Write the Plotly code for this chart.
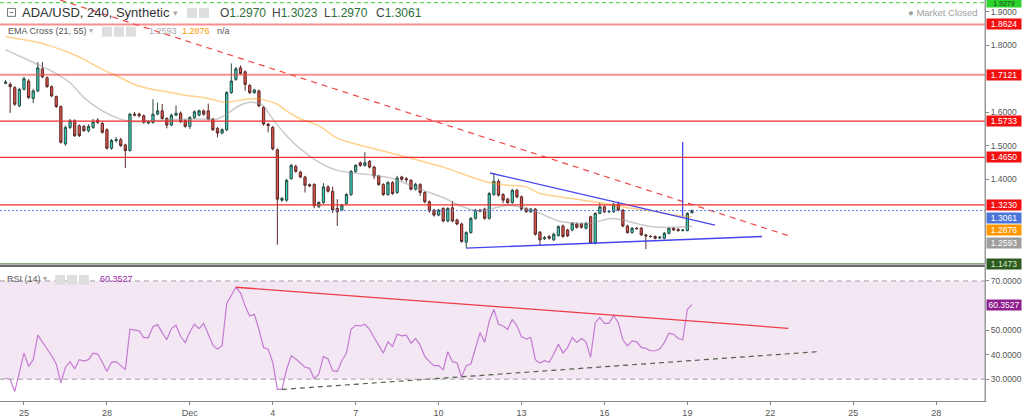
import plotly.graph_objects as go
import pandas as pd

# ---------------- data ----------------
start_time = "2021-11-24 08:00"   # first 4h candle

opens = [1.6864,1.6834,1.6735,1.6191,1.6685,1.6933,1.6409,1.6636,1.7299,1.7032,
         1.6765,1.6468,1.6171,1.5054,1.5548,1.5746,1.5598,1.5578,1.5449,1.5548,
         1.5766,1.5667,1.5479,1.4925,1.5153,1.5182,1.5024,1.4856,1.5944,1.5944,
         1.5894,1.5677,1.5697,1.5944,1.6043,1.5815,1.5617,1.5914,1.5973,1.5746,
         1.5578,1.5845,1.5914,1.6043,1.6043,1.5795,1.5518,1.5380,1.5479,1.6587,
         1.6982,1.7328,1.7210,1.6804,1.6587,1.6636,1.6142,1.5647,1.5548,1.4876,
         1.3372,1.3372,1.4015,1.4381,1.4213,1.4065,1.3837,1.3837,1.3175,1.3303,
         1.3768,1.3639,1.3125,1.3076,1.3274,1.3540,1.4233,1.4490,1.4411,1.4530,
         1.4361,1.4094,1.3837,1.3540,1.3897,1.3600,1.4065,1.4015,1.3966,1.3699,
         1.3837,1.3600,1.3323,1.3076,1.2927,1.3125,1.2749,1.3145,1.2779,1.2660,
         1.2116,1.2403,1.2828,1.3076,1.3105,1.2828,1.3540,1.3936,1.3540,1.3402,
         1.3303,1.3669,1.3471,1.3125,1.3027,1.3105,1.2413,1.2216,1.2284,1.2186,
         1.2314,1.2600,1.2481,1.2481,1.2659,1.2659,1.2531,1.2877,1.2086,1.2976,
         1.3174,1.3025,1.3025,1.3253,1.3075,1.2600,1.2402,1.2531,1.2531,1.2333,
         1.2294,1.2284,1.2244,1.2234,1.2382,1.2531,1.2501,1.2462,1.2462,1.2996]
highs = [1.6960,1.6900,1.6780,1.6730,1.7060,1.6990,1.6700,1.7497,1.7500,1.7070,
         1.6800,1.6500,1.6200,1.5600,1.5800,1.5790,1.5640,1.5620,1.5640,1.5800,
         1.5820,1.5710,1.5520,1.5200,1.5260,1.5240,1.5060,1.5980,1.6010,1.5990,
         1.5930,1.5760,1.6390,1.6290,1.6250,1.5850,1.5960,1.6200,1.6020,1.5790,
         1.5880,1.6060,1.6080,1.6080,1.6260,1.5830,1.5560,1.5520,1.6630,1.7460,
         1.7360,1.7400,1.7250,1.6840,1.6700,1.6680,1.6180,1.5680,1.5590,1.4920,
         1.3470,1.4010,1.4460,1.4430,1.4250,1.4100,1.3870,1.3880,1.3340,1.3880,
         1.3820,1.3780,1.3400,1.3260,1.3580,1.4270,1.4450,1.4530,1.4807,1.4570,
         1.4400,1.4130,1.3880,1.3940,1.3940,1.4100,1.4100,1.4060,1.4000,1.3890,
         1.3880,1.3640,1.3360,1.3110,1.3110,1.3160,1.3160,1.3350,1.2820,1.2700,
         1.2440,1.2870,1.3110,1.3110,1.3150,1.3620,1.4183,1.4000,1.3580,1.3440,
         1.3710,1.3710,1.3510,1.3160,1.3140,1.3140,1.2450,1.2300,1.2330,1.2400,
         1.2620,1.2640,1.2520,1.2720,1.2700,1.2700,1.2720,1.2910,1.3010,1.3300,
         1.3210,1.3080,1.3290,1.3330,1.3110,1.2640,1.2570,1.2570,1.2570,1.2370,
         1.2320,1.2320,1.2300,1.2420,1.2570,1.2560,1.2530,1.2510,1.3010,1.3095]
lows = [1.6840,1.5980,1.6190,1.6150,1.6650,1.6400,1.6270,1.6600,1.7020,1.6730,
        1.6450,1.6130,1.5060,1.5000,1.5500,1.5260,1.5260,1.5410,1.5400,1.5500,
        1.5650,1.5360,1.4880,1.4880,1.5100,1.4960,1.4332,1.4820,1.5880,1.5850,
        1.5660,1.5640,1.5660,1.5910,1.5780,1.5520,1.5580,1.5880,1.5680,1.5540,
        1.5500,1.5800,1.5880,1.5900,1.5760,1.5440,1.5250,1.5340,1.5440,1.6550,
        1.6940,1.7120,1.6640,1.6540,1.6550,1.6150,1.5600,1.5400,1.4860,1.2037,
        1.3320,1.3320,1.3980,1.4190,1.4030,1.3600,1.3760,1.3130,1.3140,1.3260,
        1.3600,1.2990,1.2600,1.3040,1.3240,1.3500,1.4190,1.4370,1.4370,1.4320,
        1.4000,1.3800,1.3500,1.3500,1.3530,1.3560,1.3950,1.3900,1.3660,1.3660,
        1.3500,1.3280,1.3000,1.2880,1.2890,1.2710,1.2710,1.2710,1.2620,1.2100,
        1.1938,1.2370,1.2790,1.3010,1.2790,1.2790,1.3500,1.3480,1.3280,1.3260,
        1.3260,1.3430,1.3060,1.2990,1.2990,1.2310,1.2030,1.2180,1.2190,1.2150,
        1.2280,1.2250,1.2270,1.2440,1.2520,1.2520,1.2500,1.2060,1.2050,1.2950,
        1.2990,1.2980,1.2990,1.3040,1.2560,1.2370,1.2370,1.2490,1.2300,1.1908,
        1.2250,1.2200,1.2210,1.2200,1.2350,1.2450,1.2430,1.2440,1.2440,1.2976]
closes = [1.6903,1.6765,1.6240,1.6685,1.7002,1.6438,1.6636,1.7328,1.7061,1.6765,
          1.6488,1.6171,1.5103,1.5548,1.5746,1.5301,1.5301,1.5449,1.5578,1.5716,
          1.5697,1.5400,1.4925,1.5153,1.5182,1.5004,1.4856,1.5944,1.5914,1.5894,
          1.5697,1.5716,1.5944,1.6043,1.5815,1.5617,1.5914,1.5973,1.5716,1.5578,
          1.5845,1.6013,1.6043,1.5944,1.5795,1.5479,1.5380,1.5479,1.6587,1.6933,
          1.7299,1.7160,1.6834,1.6587,1.6666,1.6191,1.5647,1.5598,1.4905,1.3402,
          1.3422,1.3966,1.4411,1.4233,1.4065,1.3817,1.3798,1.3204,1.3303,1.3768,
          1.3639,1.3076,1.3027,1.3224,1.3540,1.4233,1.4411,1.4411,1.4490,1.4361,
          1.4094,1.3837,1.3540,1.3897,1.3570,1.4035,1.3995,1.3986,1.3699,1.3847,
          1.3600,1.3323,1.3046,1.2927,1.3076,1.2749,1.3125,1.2749,1.2660,1.2136,
          1.2403,1.2828,1.3076,1.3046,1.2828,1.3570,1.3936,1.3521,1.3372,1.3303,
          1.3669,1.3471,1.3105,1.3027,1.3105,1.2354,1.2186,1.2255,1.2235,1.2354,
          1.2581,1.2284,1.2303,1.2679,1.2561,1.2561,1.2679,1.2086,1.2976,1.3174,
          1.3025,1.3035,1.3253,1.3075,1.2600,1.2402,1.2531,1.2521,1.2333,1.2303,
          1.2284,1.2234,1.2264,1.2382,1.2531,1.2481,1.2462,1.2481,1.2976,1.3061]

rsi = [30.39,29.86,25.00,32.82,40.63,35.24,37.94,47.91,45.21,42.52,
       39.55,36.19,28.51,34.84,37.13,34.17,37.94,37.40,37.94,40.63,
       40.23,36.86,33.09,36.86,37.13,35.51,33.90,50.33,49.93,49.66,
       46.96,46.96,51.41,52.22,48.98,46.02,50.60,51.95,47.37,44.94,
       49.25,52.35,50.60,52.75,48.31,43.86,42.25,43.60,60.84,64.47,
       67.44,65.15,59.76,55.72,56.39,50.33,42.92,42.25,36.86,25.81,
       25.81,33.90,39.55,38.21,36.59,34.84,34.43,30.13,32.15,39.28,
       38.21,33.49,33.09,37.53,40.63,50.33,51.95,51.68,52.35,50.33,
       46.96,43.86,40.63,45.21,43.33,48.31,47.64,47.91,44.67,46.56,
       43.86,39.28,37.13,35.51,35.51,33.90,41.17,37.13,36.59,30.80,
       35.51,36.19,42.92,48.98,44.94,53.70,58.41,52.35,51.68,50.33,
       54.37,51.68,47.37,46.29,46.96,37.94,36.59,37.53,36.86,40.23,
       44.27,40.63,42.92,46.96,44.94,46.56,45.21,38.88,53.02,55.04,
       52.75,52.75,55.99,53.02,46.02,43.60,45.62,45.21,42.92,42.52,
       41.58,41.58,42.25,44.94,48.71,48.31,46.56,46.02,58.41,60.3527]

# EMA Cross (21, 55) traced at candle indices
ema21_idx = [0, 7, 10, 14, 17, 21, 25, 28, 32, 36, 39, 43, 46, 48, 50, 52, 54, 56, 58,
             61, 64, 68, 72, 77, 80, 84, 87, 91, 95, 98, 102, 105, 109, 113, 116, 120,
             124, 127, 131, 134, 138, 141, 145, 149]
ema21 = [1.7872, 1.7427, 1.7229, 1.6883, 1.6438, 1.6043, 1.5795, 1.5716, 1.5746, 1.5776,
         1.5795, 1.5795, 1.5795, 1.5944, 1.6142, 1.6270, 1.6290, 1.6191, 1.5795,
         1.5301, 1.4905, 1.4510, 1.4262, 1.4163, 1.4114, 1.4015, 1.3867, 1.3650, 1.3450,
         1.3250, 1.3050, 1.3100, 1.3220, 1.3120, 1.2980, 1.2750, 1.2680, 1.2680, 1.2820,
         1.2780, 1.2640, 1.2570, 1.2560, 1.2593]
ema55_idx = [0, 6, 10, 14, 17, 21, 25, 28, 32, 36, 39, 43, 46, 48, 50, 54, 56, 59, 61,
             64, 68, 72, 76, 80, 87, 95, 102, 106, 109, 113, 116, 123, 130, 134, 141,
             145, 149]
ema55 = [1.826, 1.812, 1.797, 1.777, 1.758, 1.728, 1.703, 1.683, 1.668, 1.659, 1.651,
         1.644, 1.634, 1.629, 1.634, 1.641, 1.637, 1.624, 1.604, 1.580, 1.560, 1.522,
         1.505, 1.491, 1.466, 1.436, 1.402, 1.387, 1.382, 1.377, 1.357, 1.342, 1.327,
         1.317, 1.303, 1.293, 1.2876]

# horizontal levels
red_levels = [1.8624, 1.7121, 1.5733, 1.4650, 1.3230]
green_level = 1.9279
last_price = 1.3061
low_level = 1.1473

# drawn trend lines (time, value endpoints)
red_trend_t = ["2021-11-26 07:16", "2021-12-22 17:07"]
red_trend_v = [1.9356, 1.2294]
upper_blue_t = ["2021-12-11 20:38", "2021-12-20 00:00"]
upper_blue_v = [1.4184, 1.2629]
lower_blue_t = ["2021-12-11 00:00", "2021-12-21 16:50"]
lower_blue_v = [1.1938, 1.2285]
vert_blue_t = ["2021-12-18 19:55", "2021-12-18 19:55"]
vert_blue_v = [1.5113, 1.2880]
rsi_red_t = ["2021-12-02 16:00", "2021-12-22 15:39"]
rsi_red_v = [67.44, 50.73]
rsi_dash_t = ["2021-12-04 08:00", "2021-12-23 16:17"]
rsi_dash_v = [25.81, 41.17]

tick_dates = ["2021-11-25", "2021-11-28", "2021-12-01", "2021-12-04", "2021-12-07",
              "2021-12-10", "2021-12-13", "2021-12-16", "2021-12-19", "2021-12-22",
              "2021-12-25", "2021-12-28"]
tick_text = ["25", "28", "Dec", "4", "7", "10", "13", "16", "19", "22", "25", "28"]
price_ticks = [1.4, 1.5, 1.6, 1.8, 1.9]
rsi_ticks = [30, 40, 50, 70]

x_range = ["2021-11-24 03:10", "2021-12-29 18:26"]
price_range = [1.1463, 1.9356]
rsi_range = [21.11, 75.66]

times = pd.date_range(start_time, periods=len(opens), freq="4h")

# ---------------- figure ----------------
W, H = 1024, 418
ML, MR, MT, MB = 0, 39, 0, 14
PW, PH = W - ML - MR, H - MT - MB


def px(x):
    return x / PW


def py(y):
    return (PH - y) / PH


FONT = "Liberation Sans, Arial, sans-serif"

fig = go.Figure()

fig.add_trace(go.Candlestick(
    x=times, open=opens, high=highs, low=lows, close=closes,
    increasing=dict(line=dict(color="#2c4b42", width=1), fillcolor="#36d0c0"),
    decreasing=dict(line=dict(color="#5a2a2a", width=1), fillcolor="#e25448"),
    whiskerwidth=0, xaxis="x", yaxis="y", hoverinfo="skip", showlegend=False))

fig.add_trace(go.Scatter(x=[times[i] for i in ema21_idx], y=ema21, mode="lines",
                         line=dict(color="rgba(150,150,150,0.5)", width=1.5, shape="spline", smoothing=0.6),
                         xaxis="x", yaxis="y", hoverinfo="skip"))
fig.add_trace(go.Scatter(x=[times[i] for i in ema55_idx], y=ema55, mode="lines",
                         line=dict(color="rgba(255,152,0,0.45)", width=1.5, shape="spline", smoothing=0.6),
                         xaxis="x", yaxis="y", hoverinfo="skip"))

# trend lines in price pane
fig.add_trace(go.Scatter(x=red_trend_t, y=red_trend_v, mode="lines",
                         line=dict(color="#f04848", width=1.2, dash="6px,5px"),
                         xaxis="x", yaxis="y", hoverinfo="skip"))
fig.add_trace(go.Scatter(x=upper_blue_t, y=upper_blue_v, mode="lines",
                         line=dict(color="#4646ee", width=1.3), xaxis="x", yaxis="y", hoverinfo="skip"))
fig.add_trace(go.Scatter(x=lower_blue_t, y=lower_blue_v, mode="lines",
                         line=dict(color="#4646ee", width=1.3), xaxis="x", yaxis="y", hoverinfo="skip"))
fig.add_trace(go.Scatter(x=vert_blue_t, y=vert_blue_v, mode="lines",
                         line=dict(color="#4646ee", width=1.3), xaxis="x", yaxis="y", hoverinfo="skip"))

# RSI pane
fig.add_trace(go.Scatter(x=times, y=rsi, mode="lines",
                         line=dict(color="#c57bd2", width=1.2), xaxis="x2", yaxis="y2", hoverinfo="skip"))
fig.add_trace(go.Scatter(x=rsi_red_t, y=rsi_red_v, mode="lines",
                         line=dict(color="#f03c46", width=1.3), xaxis="x2", yaxis="y2", hoverinfo="skip"))
fig.add_trace(go.Scatter(x=rsi_dash_t, y=rsi_dash_v, mode="lines",
                         line=dict(color="#55604f", width=1.2, dash="5px,4px"),
                         xaxis="x2", yaxis="y2", hoverinfo="skip"))

shapes = []
# RSI band and bounds
shapes.append(dict(type="rect", xref="x2 domain", x0=0, x1=1, yref="y2", y0=30, y1=70,
                   fillcolor="rgba(150,60,160,0.12)", line=dict(width=0), layer="below"))
for lv in (30, 70):
    shapes.append(dict(type="line", xref="x2 domain", x0=0, x1=1, yref="y2", y0=lv, y1=lv,
                       line=dict(color="#a0a0a0", width=1, dash="5px,4px")))
# price levels
for i, lv in enumerate(red_levels):
    if i < 2:
        ln = dict(color="rgba(240,70,70,0.6)", width=2)
    else:
        ln = dict(color="#f02c2c", width=1.2)
    shapes.append(dict(type="line", xref="x domain", x0=0, x1=1, yref="y", y0=lv, y1=lv, line=ln))
shapes.append(dict(type="line", xref="x domain", x0=0, x1=1, yref="y", y0=green_level, y1=green_level,
                   line=dict(color="#5ad65a", width=1.2, dash="4px,3px")))
shapes.append(dict(type="line", xref="x domain", x0=0, x1=1, yref="y", y0=last_price, y1=last_price,
                   line=dict(color="#5b7fe6", width=1, dash="2px,2px")))
shapes.append(dict(type="line", xref="x domain", x0=0, x1=1, yref="y", y0=low_level, y1=low_level,
                   line=dict(color="#8fa882", width=1.5)))
# pane separator and right border
shapes.append(dict(type="line", xref="paper", x0=0, x1=1, yref="paper", y0=py(267.8), y1=py(267.8),
                   line=dict(color="#6a6a6a", width=2.5)))
shapes.append(dict(type="line", xref="paper", x0=1, x1=1, yref="paper", y0=0, y1=1,
                   line=dict(color="#9a9a9a", width=1)))


# little legend icons (grey squares)
def icon(x0, y0, s=9):
    shapes.append(dict(type="rect", xref="paper", yref="paper", x0=px(x0), x1=px(x0 + s),
                       y0=py(y0 + s), y1=py(y0), fillcolor="#dedede", line=dict(width=0)))


shapes.append(dict(type="rect", xref="paper", yref="paper", x0=px(7.5), x1=px(15.5),
                   y0=py(16.5), y1=py(8.5), fillcolor="white", line=dict(color="#777", width=1)))
shapes.append(dict(type="line", xref="paper", yref="paper", x0=px(9.5), x1=px(13.5),
                   y0=py(12.5), y1=py(12.5), line=dict(color="#777", width=1)))
for xx in (187, 199):
    icon(xx, 8, 10)
for xx in (102, 114, 126):
    icon(xx, 27, 10)
for xx in (55, 67, 79):
    icon(xx, 277, 10)

ann = []


def text(x, y, t, size=9, color="#555", anchor="left"):
    ann.append(dict(xref="paper", yref="paper", x=px(x), y=py(y), text=t, showarrow=False,
                    xanchor=anchor, yanchor="middle", font=dict(family=FONT, size=size, color=color)))


text(20, 13, "ADA/USD, 240, Synthetic", size=13, color="#333")
text(171, 13, "▾", size=9, color="#aaa")
ohlc_labels = ["O", "H", "L", "C"]
ohlc_vals = ["1.2970", "1.3023", "1.2970", "1.3061"]
for k, (lab, val) in enumerate(zip(ohlc_labels, ohlc_vals)):
    text(218 + 52 * k, 13, lab + "<span style='color:#2f6e3c'>" + val + "</span>", size=12, color="#444")
text(6, 31, "EMA Cross (21, 55)", size=9, color="#555")
text(87, 31, "▾", size=8, color="#aaa")
text(147, 31, "1.2593", size=9, color="#a8a8a8")
text(180, 31, "1.2876", size=9, color="#ff9800")
text(215, 31, "n/a", size=9, color="#555")
text(5, 281, "RSI (14)", size=9, color="#555")
text(41, 281, "▾", size=8, color="#aaa")
text(98, 281, "60.3527", size=9, color="#9c27b0")
text(980, 13, "● Market Closed", size=9.5, color="#a0a0a0", anchor="right")


def label(val, t, bg, fg="#ffffff", yref="y", dy=0, h=10, size=8.5):
    ann.append(dict(xref="paper", x=1, xanchor="left", xshift=1, yref=yref, y=val, yshift=dy,
                    yanchor="middle", text=t, showarrow=False, bgcolor=bg, width=34, height=h,
                    borderpad=0, align="center", font=dict(family=FONT, size=size, color=fg)))


label(green_level, "1.9279", "#2ad42a", fg="#1b3a1b", dy=-1, h=7, size=7)
for lv, t in zip(red_levels, ["1.8624", "1.7121", "1.5733", "1.4650", "1.3230"]):
    label(lv, t, "#f40f0f")
label(last_price, "1.3061", "#4c75dc", dy=-7)
label(1.2876, "1.2876", "#ff9800", dy=-13.5)
label(1.2593, "1.2593", "#9e9e9e", dy=-16.5)
label(low_level, "1.1473", "#2d5a1e", fg="#d8e8d0")
label(60.3527, "60.3527", "#8e1e8e", yref="y2")

fig.update_layout(
    width=W, height=H, margin=dict(l=ML, r=MR, t=MT, b=MB),
    paper_bgcolor="white", plot_bgcolor="white", showlegend=False,
    font=dict(family=FONT, size=9, color="#555"),
    xaxis=dict(domain=[0, 1], range=x_range, anchor="y", type="date", showticklabels=False,
               showgrid=False, zeroline=False, showline=False, rangeslider=dict(visible=False)),
    xaxis2=dict(domain=[0, 1], range=x_range, anchor="y2", type="date", matches="x",
                tickmode="array", tickvals=tick_dates, ticktext=tick_text,
                showgrid=False, zeroline=False, showline=True, linecolor="#888", linewidth=1,
                ticks="outside", ticklen=3, tickcolor="#888",
                tickfont=dict(family=FONT, size=9, color="#555")),
    yaxis=dict(domain=[0.3416, 1], range=price_range, anchor="x", side="right",
               tickmode="array", tickvals=price_ticks, tickformat=".4f",
               showgrid=False, zeroline=False, showline=True, linecolor="#999",
               ticks="outside", ticklen=3, tickcolor="#888",
               tickfont=dict(family=FONT, size=8.5, color="#555")),
    yaxis2=dict(domain=[0, 0.334], range=rsi_range, anchor="x2", side="right",
                tickmode="array", tickvals=rsi_ticks, tickformat=".4f",
                showgrid=False, zeroline=False, showline=True, linecolor="#999",
                ticks="outside", ticklen=3, tickcolor="#888",
                tickfont=dict(family=FONT, size=8.5, color="#555")),
    shapes=shapes, annotations=ann,
)

fig.write_html("out.html")
